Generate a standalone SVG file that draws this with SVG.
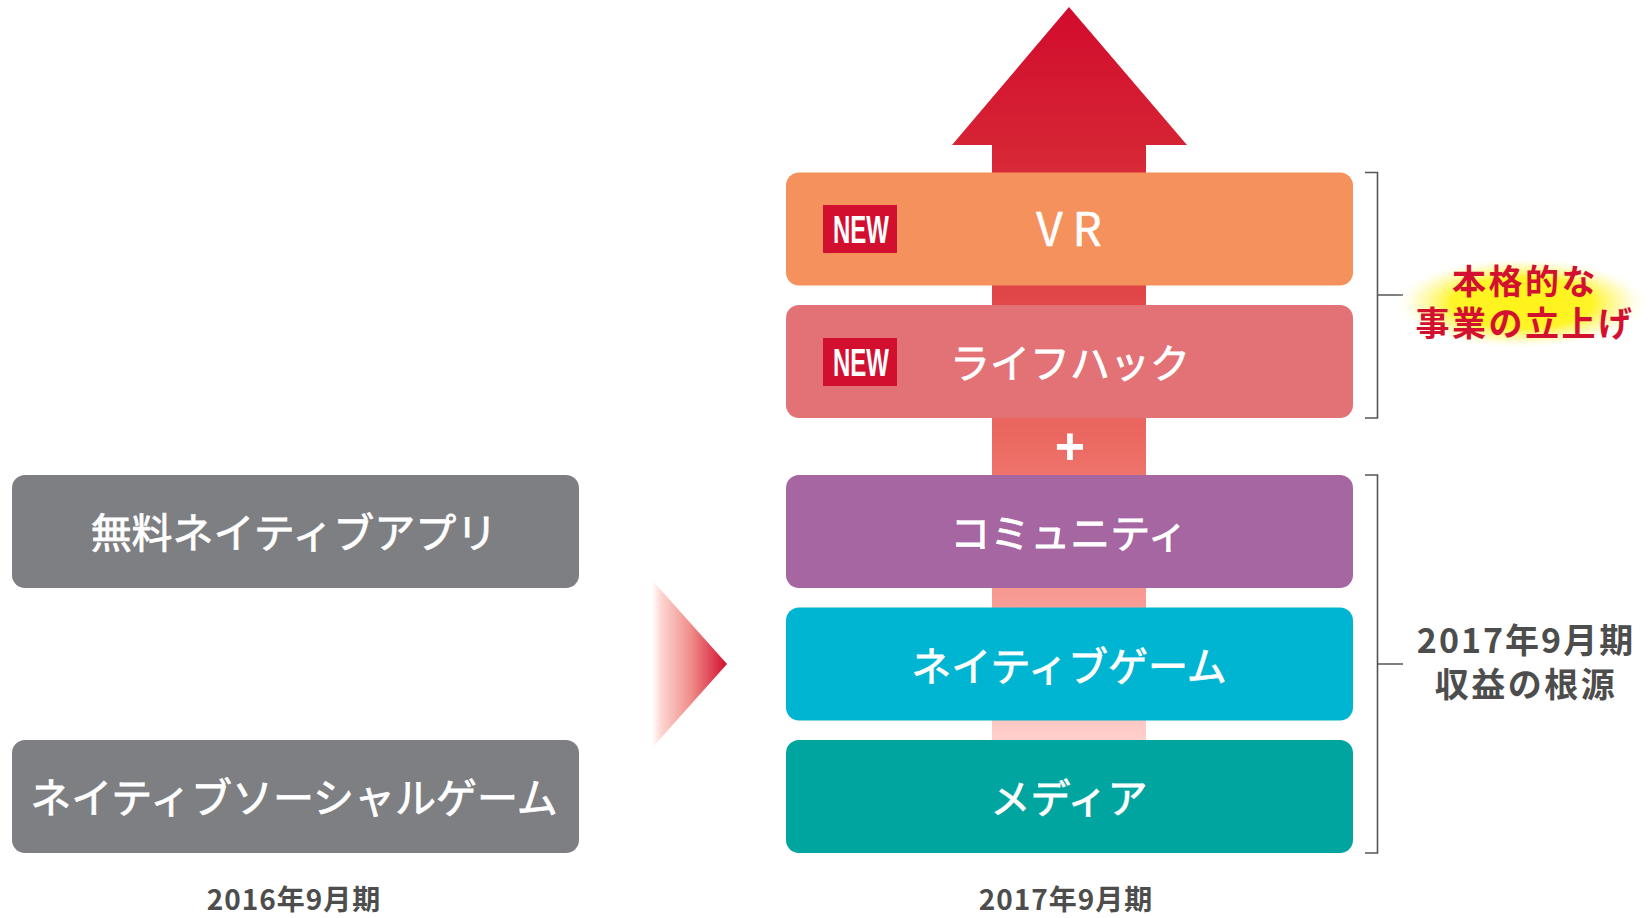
<svg xmlns="http://www.w3.org/2000/svg" width="1649" height="918" viewBox="0 0 1649 918">
<defs>
<linearGradient id="shaftGrad" gradientUnits="userSpaceOnUse" x1="0" y1="7" x2="0" y2="740">
<stop offset="0" stop-color="#D20B2D"/>
<stop offset="0.19" stop-color="#D62434"/>
<stop offset="0.39" stop-color="#E04648"/>
<stop offset="0.6" stop-color="#EC6B63"/>
<stop offset="0.81" stop-color="#F89C95"/>
<stop offset="1" stop-color="#FFCFCB"/>
</linearGradient>
<linearGradient id="triGrad" gradientUnits="userSpaceOnUse" x1="652" y1="0" x2="728" y2="0">
<stop offset="0" stop-color="#FFFFFF"/>
<stop offset="0.12" stop-color="#FDD6D2"/>
<stop offset="0.5" stop-color="#F0908C"/>
<stop offset="1" stop-color="#D20B2D"/>
</linearGradient>
<radialGradient id="glow" cx="0.5" cy="0.5" r="0.5">
<stop offset="0" stop-color="#FFF200" stop-opacity="0.9"/>
<stop offset="0.55" stop-color="#FFF200" stop-opacity="0.85"/>
<stop offset="0.8" stop-color="#FFF566" stop-opacity="0.4"/>
<stop offset="1" stop-color="#FFFFFF" stop-opacity="0"/>
</radialGradient>
<style>
.box{rx:13px;ry:13px}
.jp{font-family:"Noto Sans CJK JP","Noto Sans",sans-serif}
.lbl{fill:#FFFFFF;stroke:#FFFFFF;stroke-width:0.8px;font-size:40px;font-weight:400;text-anchor:middle}
.lbl-l{fill:#FFFFFF;stroke:#FFFFFF;stroke-width:0.8px;font-size:41px;font-weight:400;text-anchor:middle}
.badge{fill:#D30F30}
.new{fill:#FFFFFF;font-family:"Liberation Sans",Arial,sans-serif;font-weight:700;font-size:38px}
.br{fill:none;stroke:#555555;stroke-width:1.6}
.side{font-family:"Noto Sans CJK JP",sans-serif;font-weight:700;font-size:34px;text-anchor:middle;letter-spacing:2.5px}
.year{font-family:"Noto Sans CJK JP",sans-serif;font-weight:700;font-size:28px;fill:#4D4D4D;text-anchor:middle;letter-spacing:1px}
</style>
</defs>
<rect width="1649" height="918" fill="#FFFFFF"/>

<g id="connectors">
<polygon id="big-arrow" points="1069,7 1187,145 1146,145 1146,740 992,740 992,145 952,145" fill="url(#shaftGrad)"/>
<polygon id="transition-arrow" points="652,580 727,664 652,748" fill="url(#triGrad)"/>
<path class="br" d="M1365,172.5 H1377.5 V418 H1365 M1377.5,295 H1403"/>
<path class="br" d="M1365,475 H1377.5 V853 H1365 M1377.5,664 H1403"/>
</g>

<g id="node-free-app">
<rect class="box" x="12" y="475" width="567" height="113" fill="#7E7F83"/>
<text class="jp lbl-l" x="294" y="548">無料ネイティブアプリ</text>
</g>
<g id="node-social-game">
<rect class="box" x="12" y="740" width="567" height="113" fill="#7E7F83"/>
<text class="jp lbl-l" x="294" y="813">ネイティブソーシャルゲーム</text>
</g>
<text id="label-2016" class="year" x="294" y="910">2016年9月期</text>

<g id="node-vr">
<rect class="box" x="786" y="172.5" width="567" height="113" fill="#F5915C"/>
<rect class="badge" x="823" y="205" width="74" height="48"/>
<text class="new" x="833" y="243" textLength="56" lengthAdjust="spacingAndGlyphs">NEW</text>
<text class="jp" x="1074" y="246" fill="#FFFFFF" stroke="#FFFFFF" stroke-width="0.5" font-size="46" font-weight="400" text-anchor="middle" letter-spacing="10">VR</text>
</g>
<g id="node-lifehack">
<rect class="box" x="786" y="305" width="567" height="113" fill="#E27275"/>
<rect class="badge" x="823" y="338" width="74" height="48"/>
<text class="new" x="833" y="376" textLength="56" lengthAdjust="spacingAndGlyphs">NEW</text>
<text class="jp lbl" x="1070" y="378">ライフハック</text>
</g>
<text id="plus" x="1070" y="464" fill="#FFFFFF" font-family="Liberation Sans, Arial, sans-serif" font-weight="700" font-size="52" text-anchor="middle">+</text>
<g id="node-community">
<rect class="box" x="786" y="475" width="567" height="113" fill="#A566A2"/>
<text class="jp lbl" x="1069" y="548">コミュニティ</text>
</g>
<g id="node-native-game">
<rect class="box" x="786" y="607.5" width="567" height="113" fill="#00B5D2"/>
<text class="jp lbl" x="1069" y="681">ネイティブゲーム</text>
</g>
<g id="node-media">
<rect class="box" x="786" y="740" width="567" height="113" fill="#00A5A0"/>
<text class="jp lbl" x="1069" y="813">メディア</text>
</g>
<text id="label-2017" class="year" x="1066" y="910">2017年9月期</text>

<g id="note-new-business">
<ellipse cx="1522" cy="303" rx="128" ry="46" fill="url(#glow)"/>
<text class="side" fill="#D3102F"><tspan x="1525" y="294">本格的な</tspan><tspan x="1525" y="336">事業の立上げ</tspan></text>
</g>
<g id="note-revenue">
<text class="side" fill="#4D4D4D"><tspan x="1526" y="653" letter-spacing="2">2017年9月期</tspan><tspan x="1526" y="697">収益の根源</tspan></text>
</g>
</svg>
